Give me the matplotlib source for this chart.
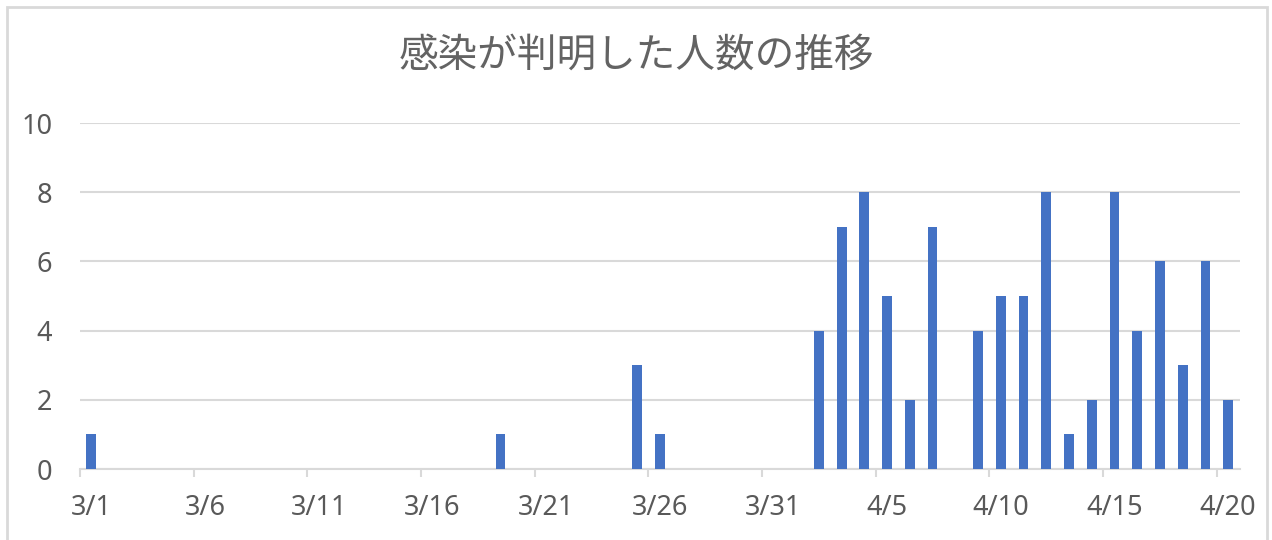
import matplotlib
matplotlib.use('Agg')
import matplotlib.pyplot as plt
import pandas as pd
from matplotlib.patches import Rectangle

# Data
case_dates = ['3/1', '3/19', '3/25', '3/26', '4/2', '4/3', '4/4', '4/5', '4/6', '4/7',
              '4/9', '4/10', '4/11', '4/12', '4/13', '4/14', '4/15', '4/16', '4/17',
              '4/18', '4/19', '4/20']
case_counts = [1, 1, 3, 1, 4, 7, 8, 5, 2, 7,
               4, 5, 5, 8, 1, 2, 8, 4, 6,
               3, 6, 2]
tick_labels = ['3/1', '3/6', '3/11', '3/16', '3/21', '3/26', '3/31',
               '4/5', '4/10', '4/15', '4/20']
y_ticks = [0, 2, 4, 6, 8, 10]
start_label = '3/1'
end_label = '4/20'
title = '感染が判明した人数の推移'

bar_color = '#4472C4'
text_color = '#595959'
grid_color = '#D9D9D9'


def to_day(label):
    d = pd.to_datetime('2020/' + label, format='%Y/%m/%d')
    return (d - pd.to_datetime('2020/' + start_label, format='%Y/%m/%d')).days


def generate_chart():
    fig = plt.figure(figsize=(12.72, 5.4), dpi=100)
    ax = fig.add_axes([80 / 1272, 71 / 540, 1159.5 / 1272, 346 / 540])

    x = [to_day(d) for d in case_dates]
    ax.bar(x, case_counts, width=0.43, color=bar_color, zorder=3)

    last = to_day(end_label)
    ax.set_xlim(-0.5, last + 0.5)
    ax.set_ylim(0, 10)

    # gridlines
    ax.set_yticks(y_ticks)
    ax.yaxis.grid(True, color=grid_color, linewidth=1.5, zorder=0)
    ax.tick_params(axis='y', length=0, pad=20, labelsize=19.5, labelcolor=text_color)

    # labels centred on days, tick marks on day boundaries
    label_pos = [to_day(t) for t in tick_labels]
    ax.set_xticks(label_pos)
    ax.set_xticklabels(tick_labels)
    ax.set_xticks([p - 0.5 for p in label_pos], minor=True)
    ax.tick_params(axis='x', which='major', length=0, pad=18, labelsize=19.5, labelcolor=text_color)
    ax.tick_params(axis='x', which='minor', length=6, width=1.5, color=grid_color)

    for side in ['top', 'right', 'left']:
        ax.spines[side].set_visible(False)
    ax.spines['bottom'].set_color(grid_color)
    ax.spines['bottom'].set_linewidth(1.5)

    for lbl in ax.get_xticklabels() + ax.get_yticklabels():
        lbl.set_family(['Noto Sans', 'DejaVu Sans'])

    fig.text(0.5, 1 - 56 / 540, title, ha='center', va='center', fontsize=28.5,
             color='#636363', family=['Noto Sans CJK JP', 'DejaVu Sans'])

    # outer chart border
    fig.patches.append(Rectangle((7 / 1272, -0.05), 1260 / 1272, 1.05 - 7 / 540,
                                 transform=fig.transFigure, fill=False,
                                 edgecolor=grid_color, linewidth=2))

    fig.savefig('out.png', dpi=100)
    plt.close(fig)


if __name__ == "__main__":
    generate_chart()
